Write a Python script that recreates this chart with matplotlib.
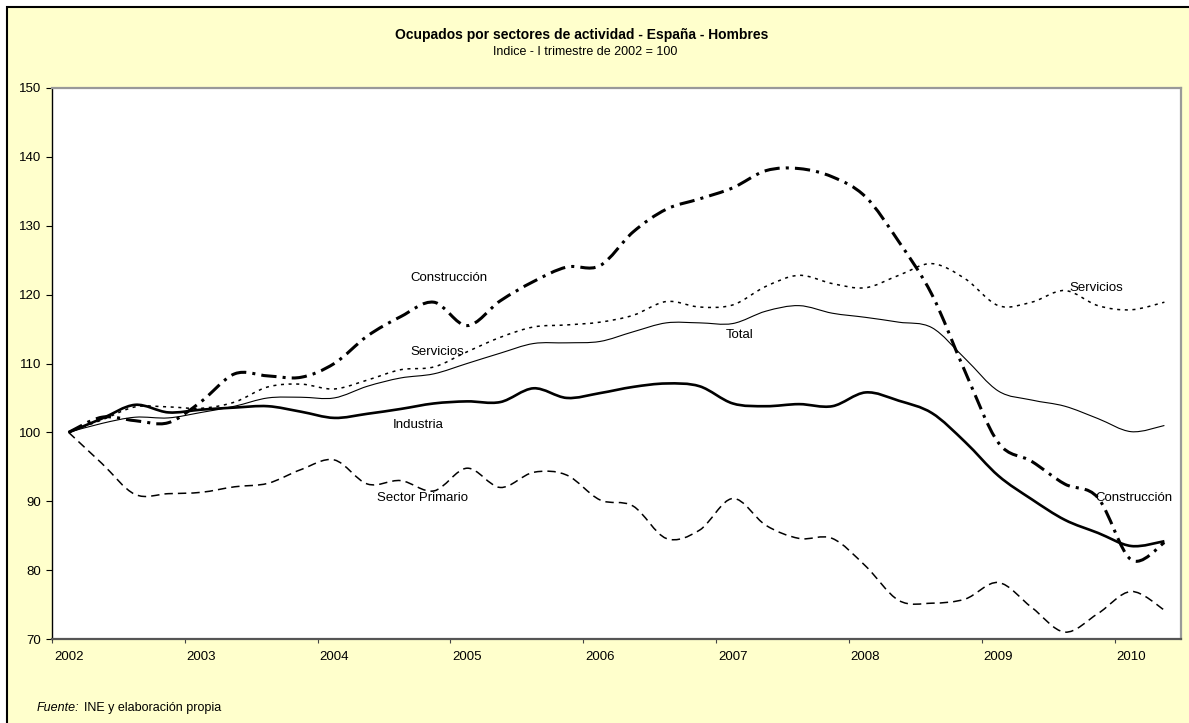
import numpy as np
import matplotlib
matplotlib.use('Agg')
import matplotlib.pyplot as plt
from matplotlib.path import Path
from matplotlib.patches import PathPatch, Rectangle

plt.rcParams['font.family'] = ['Liberation Sans', 'DejaVu Sans']

# quarterly data, I-2002 .. II-2010 (index I trimestre 2002 = 100)
years = ['2002', '2003', '2004', '2005', '2006', '2007', '2008', '2009', '2010']

construccion = [100.0, 102.2, 101.7, 101.4, 104.5, 108.5, 108.2, 108.0, 110.0, 114.0,
                116.8, 118.9, 115.5, 119.1, 121.9, 124.0, 124.2, 129.1, 132.4, 133.9,
                135.5, 138.0, 138.3, 137.1, 134.2, 127.7, 120.0, 108.8, 98.5, 95.8,
                92.5, 90.5, 81.5, 84.0]
servicios = [100.0, 101.8, 103.7, 103.7, 103.5, 104.4, 106.6, 107.0, 106.3, 107.6,
             109.1, 109.5, 111.7, 113.8, 115.3, 115.6, 116.0, 117.0, 119.0, 118.2,
             118.5, 121.2, 122.8, 121.6, 121.0, 122.8, 124.5, 122.3, 118.4, 118.9,
             120.6, 118.4, 117.8, 118.9]
total = [100.0, 101.3, 102.2, 102.1, 102.9, 103.8, 105.0, 105.1, 105.0, 106.7,
         107.9, 108.5, 110.0, 111.5, 112.9, 113.0, 113.2, 114.6, 115.9, 115.9,
         115.8, 117.6, 118.4, 117.3, 116.7, 116.0, 115.2, 110.7, 106.0, 104.7,
         103.8, 102.0, 100.1, 101.0]
industria = [100.0, 102.0, 104.0, 102.9, 103.3, 103.6, 103.8, 103.0, 102.1, 102.7,
             103.4, 104.2, 104.5, 104.4, 106.4, 105.0, 105.7, 106.6, 107.1, 106.7,
             104.2, 103.8, 104.1, 103.8, 105.8, 104.6, 102.8, 98.6, 93.7, 90.3,
             87.3, 85.4, 83.5, 84.2]
sector_primario = [100.0, 95.5, 91.0, 91.1, 91.3, 92.1, 92.6, 94.6, 96.0, 92.5,
                   93.0, 91.5, 94.8, 92.0, 94.2, 93.8, 90.2, 89.3, 84.6, 85.8,
                   90.4, 86.5, 84.6, 84.6, 80.6, 75.6, 75.2, 75.8, 78.2, 74.6,
                   71.0, 73.7, 76.9, 74.2]


def smooth_path(y):
    # excel style smoothed line: bezier through every point
    x = np.arange(len(y)) + 0.5
    p = np.column_stack([x, np.asarray(y, float)])
    ext = np.vstack([p[0], p, p[-1]])
    verts = [p[0]]
    codes = [Path.MOVETO]
    for i in range(len(p) - 1):
        c1 = ext[i + 1] + (ext[i + 2] - ext[i]) / 6.0
        c2 = ext[i + 2] - (ext[i + 3] - ext[i + 1]) / 6.0
        verts += [c1, c2, p[i + 1]]
        codes += [Path.CURVE4] * 3
    return Path(verts, codes)


fig = plt.figure(figsize=(11.89, 7.23), dpi=100)
fig.patch.set_facecolor('white')
fig.patches.append(Rectangle((7 / 1189, -0.1), 1.5, 1.1 - 7 / 723, transform=fig.transFigure,
                             facecolor='#FFFFCC', edgecolor='black', lw=1.5, zorder=-10))

ax = fig.add_axes([52 / 1189, 1 - 639 / 723, 1129 / 1189, 551 / 723])
ax.set_facecolor('white')

series = [
    (construccion, 2.2, (0, (5, 2, 1, 2))),
    (servicios, 1.1, (0, (2, 3))),
    (total, 0.8, '-'),
    (industria, 1.9, '-'),
    (sector_primario, 1.1, (0, (5.5, 3.3))),
]
for vals, lw, ls in series:
    ax.add_patch(PathPatch(smooth_path(vals), fill=False, edgecolor='black',
                           lw=lw, linestyle=ls, capstyle='butt', joinstyle='round'))

n = len(total)
ax.set_xlim(0, n)
ax.set_ylim(70, 150)
ax.set_yticks(range(70, 151, 10))
ax.set_xticks(range(0, n, 4))
ax.set_xticklabels([])
ax.set_xticks(np.arange(0, n, 4) + 0.5, minor=True)
ax.set_xticklabels(years, minor=True)
ax.tick_params(axis='x', which='major', length=3, direction='out', color='#444444')
ax.tick_params(axis='x', which='minor', length=0, pad=9, labelsize=9.5)
ax.tick_params(axis='y', length=4, direction='out', pad=4, labelsize=9.5)

ax.spines['left'].set_color('black')
ax.spines['left'].set_linewidth(1.0)
ax.spines['bottom'].set_color('#555555')
ax.spines['bottom'].set_linewidth(1.6)
for s in ['top', 'right']:
    ax.spines[s].set_color('#999999')
    ax.spines[s].set_linewidth(1.6)

# series labels
fs = 9.5
ax.text(10.78, 122.35, 'Construcción', fontsize=fs, va='center')
ax.text(10.8, 111.65, 'Servicios', fontsize=fs, va='center')
ax.text(20.3, 114.1, 'Total', fontsize=fs, va='center')
ax.text(10.26, 101.0, 'Industria', fontsize=fs, va='center')
ax.text(9.79, 90.5, 'Sector Primario', fontsize=fs, va='center')
ax.text(30.64, 120.95, 'Servicios', fontsize=fs, va='center')
ax.text(31.42, 90.5, 'Construcción', fontsize=fs, va='center')

fig.text(582 / 1189, 1 - 35 / 723, 'Ocupados por sectores de actividad - España - Hombres',
         ha='center', va='center', fontsize=10, fontweight='bold')
fig.text(585 / 1189, 1 - 52 / 723, 'Indice - I trimestre de 2002 = 100',
         ha='center', va='center', fontsize=9)
src = fig.text(37 / 1189, 1 - 708 / 723, 'Fuente:', style='italic', fontsize=9, va='center')
ax.annotate('INE y elaboración propia', xy=(1, 0.5), xycoords=src, xytext=(3, 0),
            textcoords='offset points', va='center', fontsize=9, annotation_clip=False)

fig.savefig('out.png', dpi=100, facecolor=fig.get_facecolor())
